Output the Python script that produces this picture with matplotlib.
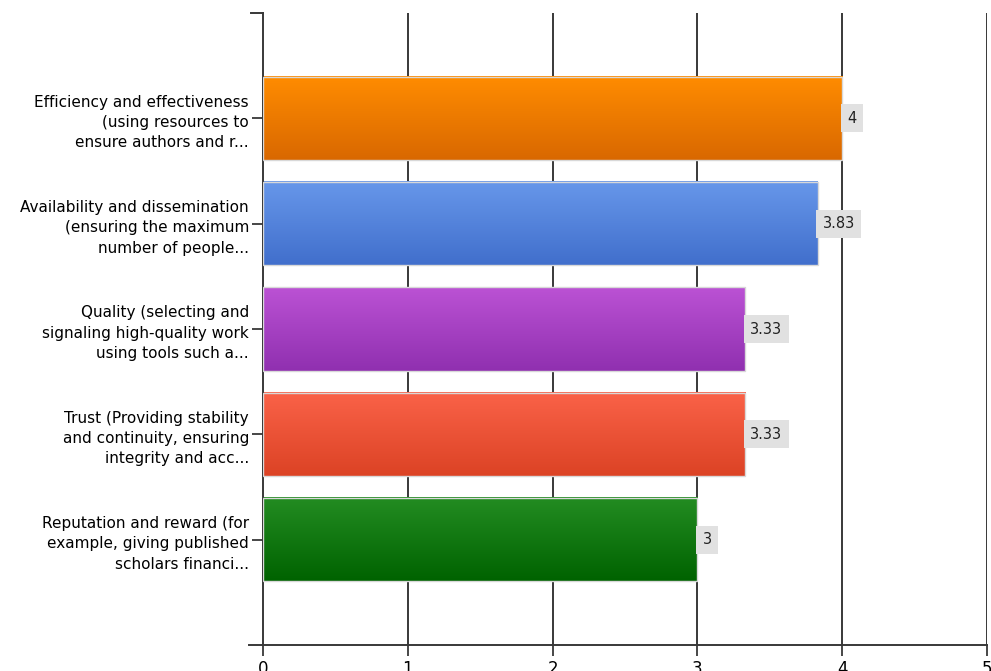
import numpy as np
import matplotlib
matplotlib.use("Agg")
import matplotlib.pyplot as plt
from matplotlib.colors import LinearSegmentedColormap

labels = [
    "Efficiency and effectiveness\n(using resources to\nensure authors and r...",
    "Availability and dissemination\n(ensuring the maximum\nnumber of people...",
    "Quality (selecting and\nsignaling high-quality work\nusing tools such a...",
    "Trust (Providing stability\nand continuity, ensuring\nintegrity and acc...",
    "Reputation and reward (for\nexample, giving published\nscholars financi...",
]
values = [4, 3.83, 3.33, 3.33, 3]
value_text = ["4", "3.83", "3.33", "3.33", "3"]
top_colors = ["#ff8c00", "#6797ea", "#bb52d4", "#fa6248", "#238c22"]
bottom_colors = ["#d96800", "#416fcc", "#9030b0", "#dc4325", "#006300"]

fig = plt.figure(figsize=(9.91, 6.71), dpi=100)
ax = fig.add_axes([263 / 991, 1 - 645 / 671, 724 / 991, 632 / 671])

bar_h = 0.79
ypos = np.arange(len(values))

# vertical grid
for gx in range(1, 6):
    ax.axvline(gx, color="#383838", lw=1.4, zorder=1)

for i, (v, c1, c2) in enumerate(zip(values, top_colors, bottom_colors)):
    cmap = LinearSegmentedColormap.from_list("g%d" % i, [c1, c2])
    grad = np.linspace(0, 1, 100).reshape(-1, 1)
    ax.imshow(grad, cmap=cmap, aspect="auto", zorder=2,
              extent=(0, v, i + bar_h / 2, i - bar_h / 2))
    ax.add_patch(plt.Rectangle((0, i - bar_h / 2), v, bar_h, fill=False,
                               ec="#d8d8d8", lw=1, zorder=3))
    ax.text(v + 0.035, i, value_text[i], ha="left", va="center", fontsize=10.5,
            color="#222222", zorder=4,
            bbox=dict(boxstyle="square,pad=0.45", fc="#e1e1e1", ec="none"))

ax.set_xlim(0, 5)
ax.set_ylim(len(values), -1)

ax.set_yticks(ypos)
ax.set_yticklabels(labels, fontsize=11, ha="right", linespacing=1.45)
ax.set_xticks(range(6))
ax.set_xticklabels([str(t) for t in range(6)], fontsize=12)
ax.tick_params(axis="y", length=8, width=1.3, color="#383838", pad=2)
ax.tick_params(axis="x", length=8, width=1.3, color="#383838", pad=3)

for s in ["top", "right"]:
    ax.spines[s].set_visible(False)
for s in ["left", "bottom"]:
    ax.spines[s].set_color("#383838")
    ax.spines[s].set_linewidth(1.4)

# small ticks at top and bottom ends of the left axis
ax.plot([-0.08, 0], [-1, -1], color="#383838", lw=1.4, clip_on=False)
ax.plot([-0.1, 0], [len(values), len(values)], color="#383838", lw=1.4, clip_on=False)

fig.savefig("out.png", dpi=100)
